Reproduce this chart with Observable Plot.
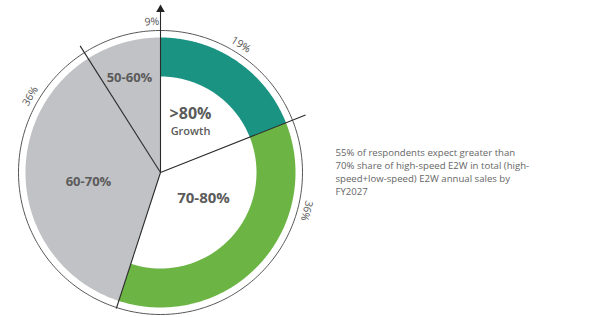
<!DOCTYPE html>
<html><head><meta charset="utf-8">
<script src="https://cdn.jsdelivr.net/npm/d3@7"></script>
<script src="https://cdn.jsdelivr.net/npm/@observablehq/plot@0.6"></script>
<style>body{margin:0;background:#fff;} svg{display:block;}</style>
</head><body><div id="chart"></div>
<script>
// ---- data ----
const categories = [">80%\nGrowth", "70-80%", "60-70%", "50-60%"];
const shares = [19, 36, 36, 9];
const shareLabels = ["19%", "36%", "36%", "9%"];
const caption = "55% of respondents expect greater than\n70% share of high-speed E2W in total (high-\nspeed+low-speed) E2W annual sales by\nFY2027";

// ---- styling / layout ----
const colors = ["#1b9383", "#6cb545", "#c1c2c5", "#c1c2c5"];
const isRing = [true, true, false, false];
const labelFrac = [0.47, 0.28, 0.79, 0.9];      // where along each slice its % label sits
const catPos = [[190, 122], [203, 198], [88, 181], [129, 77]];
const catSize = [16, 15, 13, 13];
const cx = 160, cy = 172, R = 135, r0 = 96, Rc = 142;
const lineLen = [165, 156, 143, 150];

const pt = (a, r) => [cx + r * Math.sin(a * Math.PI / 180), cy - r * Math.cos(a * Math.PI / 180)];
const total = d3.sum(shares);
const starts = shares.map((s, i) => d3.sum(shares.slice(0, i)) / total * 360);
const ends = shares.map((s, i) => d3.sum(shares.slice(0, i + 1)) / total * 360);

const shapes = [];
shares.forEach((s, i) => {
  const a0 = starts[i], a1 = ends[i], n = 120;
  for (let k = 0; k <= n; k++) { const [x, y] = pt(a0 + (a1 - a0) * k / n, R); shapes.push({id: i, x, y, c: colors[i]}); }
  if (isRing[i]) {
    for (let k = n; k >= 0; k--) { const [x, y] = pt(a0 + (a1 - a0) * k / n, r0); shapes.push({id: i, x, y, c: colors[i]}); }
  } else { shapes.push({id: i, x: cx, y: cy, c: colors[i]}); }
});
const circle = d3.range(0, 361).map(a => { const [x, y] = pt(a, Rc); return {x, y}; });
const dividers = starts.map((a, i) => { const [x2, y2] = pt(a, lineLen[i]); return {x1: cx, y1: cy, x2, y2}; });
const pctLabels = shares.map((s, i) => {
  let a = starts[i] + (ends[i] - starts[i]) * labelFrac[i];
  const [x, y] = pt(a, 151);
  let rot = a > 180 ? a - 360 : a;
  return {x, y, t: shareLabels[i], rot};
});
const catLabels = categories.map((c, i) => ({x: catPos[i][0], y: catPos[i][1], t: c, s: catSize[i]}));

const chart = Plot.plot({
  width: 602, height: 317,
  margin: 0,
  x: {domain: [0, 602], range: [0, 602], axis: null},
  y: {domain: [0, 317], range: [0, 317], axis: null},
  color: {type: "identity"},
  style: {fontFamily: "Open Sans, sans-serif", background: "#fff"},
  marks: [
    Plot.line(circle, {x: "x", y: "y", stroke: "#555", strokeWidth: 1}),
    Plot.line(shapes, {x: "x", y: "y", z: "id", fill: "c", stroke: "none"}),
    Plot.link(dividers, {x1: "x1", y1: "y1", x2: "x2", y2: "y2", stroke: "#2a2a2a", strokeWidth: 1.1}),
    Plot.dot([dividers[0]], {x: "x2", y: d => d.y2 + 2, symbol: "triangle", r: 3.2, fill: "#222", stroke: "none"}),
    Plot.text(pctLabels, {x: "x", y: "y", text: "t", rotate: "rot", fontSize: 10.5, fill: "#555"}),
    ...catLabels.slice(1).map(d => Plot.text([d], {x: "x", y: "y", text: "t", fontSize: d.s, fontWeight: 700, fill: "#5b5b5b"})),
    Plot.text([catLabels[0]], {x: "x", y: d => d.y - 9, text: d => d.t.split("\n")[0], fontSize: 16, fontWeight: 700, fill: "#5b5b5b"}),
    Plot.text([catLabels[0]], {x: "x", y: d => d.y + 9, text: d => d.t.split("\n")[1], fontSize: 11, fontWeight: 600, fill: "#5b5b5b"}),
    Plot.text([caption], {x: 335, y: 146, text: d => d, textAnchor: "start", lineAnchor: "top", lineHeight: 1.35, fontSize: 9.6, fill: "#666"})
  ]
});
document.getElementById("chart").appendChild(chart);
</script></body></html>
